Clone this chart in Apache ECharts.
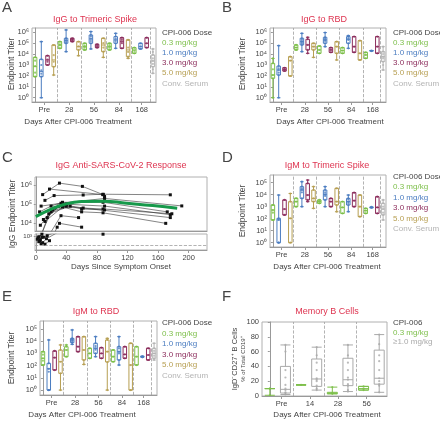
<!DOCTYPE html>
<html><head><meta charset="utf-8">
<script src="https://cdn.jsdelivr.net/npm/echarts@6/dist/echarts.min.js"></script>
<style>html,body{margin:0;padding:0;background:#fff}#c{width:440px;height:421px}</style>
</head><body><div id="c"></div>
<script>
// ---------- shared ----------
const doseNames = ['0.3 mg/kg','1.0 mg/kg','3.0 mg/kg','5.0 mg/kg','Conv. Serum'];
const doseColors = ['#7dbf4a','#4a7cc0','#8c2d5c','#b79f52','#b3b3b3'];
const slotDose = [0,1,2,3, 0,1,2,3, 0,1,2,3, 0,1,2,3, 0,1,2, 4];
const groupLabels = ['Pre','28','56','84','168'];
const groupPos = [1.5,5.5,9.5,13.5,17.2];
const groupBreaks = [3.5,7.5,11.5,15.5,18.5];

// ---------- A: IgG to Trimeric Spike (log10 endpoint titer; [min,q1,median,q3,max]) ----------
const A_stats = [
 [1.93,1.93,2.85,3.7,3.7],[0,1.93,2.39,3.52,5.14],[3.0,3.0,3.46,3.85,3.85],[2.08,2.84,3.46,4.83,4.83],
 [4.53,4.53,4.83,5.14,5.14],[4.22,4.99,5.23,5.45,6.21],[5.14,5.14,5.3,5.45,5.45],[3.85,4.38,4.68,5.14,5.14],
 [4.38,4.38,4.68,4.99,4.99],[4.47,4.99,5.39,5.75,6.06],[4.59,4.59,4.74,4.9,4.9],[3.7,4.22,4.83,5.45,5.45],
 [4.38,4.38,4.68,4.99,4.99],[4.53,4.99,5.3,5.6,5.9],[4.53,4.53,5.14,5.5,5.5],[3.61,3.76,4.38,5.3,5.3],
 [4.07,4.07,4.38,4.59,4.59],[4.47,4.47,4.68,4.99,4.99],[4.59,4.59,4.99,5.5,5.5],
 [2.24,2.84,3.37,3.92,4.47]];
const A_points = [
 [1.93,2.3,2.9,3.4,3.7],[0,1.93,2.2,2.5,3.0,3.52,5.14],[3.0,3.3,3.5,3.85],[2.08,2.84,3.3,3.9,4.83],
 [4.53,4.8,4.9,5.14],[4.22,4.99,5.1,5.25,5.4,5.45,6.21],[5.14,5.25,5.35,5.45],[3.85,4.38,4.7,5.14],
 [4.38,4.6,4.75,4.99],[4.47,4.99,5.2,5.4,5.6,5.75,6.06],[4.59,4.74,4.9],[3.7,4.22,4.6,5.0,5.45],
 [4.38,4.6,4.8,4.99],[4.53,4.99,5.2,5.4,5.6,5.9],[4.53,5.0,5.3,5.5],[3.61,3.76,4.2,4.6,5.3],
 [4.07,4.3,4.59],[4.47,4.7,4.99],[4.59,4.99,5.5],
 [2.24,2.6,2.84,3.1,3.37,3.6,3.92,4.2,4.47]];

// ---------- B: IgG to RBD ----------
const B_stats = [
 [0,1.78,2.08,3.15,3.6],[0,2.08,2.54,2.9,4.77],[2.45,2.45,2.6,2.75,2.75],[1.99,1.99,3.4,3.76,3.76],
 [4.38,4.38,4.6,4.84,4.84],[4.22,4.84,5.14,5.45,5.9],[4.07,4.38,4.84,5.36,5.54],[3.7,4.38,4.68,4.99,4.99],
 [4.07,4.07,4.38,4.74,4.74],[4.68,4.99,5.3,5.54,5.97],[4.16,4.16,4.38,4.59,4.59],[3.46,4.07,4.68,5.14,5.14],
 [4.07,4.07,4.32,4.59,4.59],[4.53,4.99,5.36,5.6,5.69],[4.16,4.16,4.68,5.6,5.6],[3.46,3.46,4.07,5.23,5.23],
 [3.61,3.61,3.92,4.16,4.16],[4.28,4.28,4.3,4.33,4.33],[4.07,4.07,4.68,5.6,5.6],
 [2.54,3.31,3.76,4.22,4.68]];
const B_points = [
 [0,1.78,2.08,2.6,3.15,3.6],[0,2.08,2.3,2.54,2.7,2.9,4.77],[2.45,2.6,2.75],[1.99,3.4,3.76],
 [4.38,4.6,4.84],[4.22,4.84,5.0,5.14,5.3,5.45,5.9],[4.07,4.38,4.84,5.36,5.54],[3.7,4.38,4.68,4.99],
 [4.07,4.38,4.74],[4.68,4.99,5.2,5.3,5.45,5.54,5.97],[4.16,4.38,4.59],[3.46,4.07,4.68,5.14],
 [4.07,4.32,4.59],[4.53,4.99,5.3,5.45,5.6,5.69],[4.16,4.68,5.6],[3.46,4.07,5.23],
 [3.61,3.92,4.16],[4.28,4.33],[4.07,4.68,5.6],
 [2.54,3.0,3.31,3.6,3.76,4.0,4.22,4.68]];

// ---------- D: IgM to Trimeric Spike ----------
const D_stats = [
 [1.89,1.89,2.72,3.14,3.14],[0,0,1.9,2.03,3.97],[2.31,2.31,2.8,3.56,3.56],[0,0,2.03,3.42,4.1],
 [3.0,3.0,3.42,3.7,3.7],[3.0,3.69,4.39,4.67,5.08],[3.42,3.56,3.97,4.94,5.22],[2.86,3.42,3.69,4.39,4.67],
 [3.28,3.28,3.42,3.56,3.56],[3.0,3.56,4.03,4.39,4.67],[3.0,3.0,3.42,3.69,3.69],[2.58,3.14,3.42,4.53,4.53],
 [2.44,2.44,2.94,3.42,3.42],[2.58,3.14,3.42,3.69,3.97],[3.0,3.0,3.5,4.17,4.17],[2.17,2.17,3.0,3.97,3.97],
 [2.44,2.44,2.67,2.86,2.86],[2.9,2.92,2.94,2.96,2.98],[2.44,2.44,2.94,3.83,3.83],
 [1.89,2.31,2.8,3.28,3.56]];
const D_points = [
 [1.89,2.5,2.72,3.14],[0,0,1.9,2.03,3.97],[2.31,2.8,3.56],[0,2.03,3.42,4.1],
 [3.0,3.42,3.7],[3.0,3.69,4.2,4.39,4.5,4.67,5.08],[3.42,3.56,3.97,4.94,5.22],[2.86,3.42,3.69,4.39,4.67],
 [3.28,3.42,3.56],[3.0,3.56,3.9,4.03,4.2,4.39,4.67],[3.0,3.42,3.69],[2.58,3.14,3.42,4.53],
 [2.44,2.94,3.42],[2.58,3.14,3.3,3.42,3.6,3.69,3.97],[3.0,3.5,4.17],[2.17,3.0,3.97],
 [2.44,2.67,2.86],[2.9,2.98],[2.44,2.94,3.83],
 [1.89,2.31,2.5,2.8,3.0,3.28,3.56]];

// ---------- E: IgM to RBD ----------
const E_stats = [
 [2.05,2.05,2.6,3.14,3.14],[0,0,1.74,2.19,4.1],[1.64,1.64,2.65,3.2,3.2],[0,1.37,2.32,3.28,3.69],
 [2.73,2.73,3.28,3.55,3.69],[3.74,3.88,4.1,4.23,4.92],[3.14,3.14,3.55,4.37,4.37],[2.1,2.46,3.28,4.37,4.37],
 [2.6,2.6,3.0,3.42,3.42],[2.73,3.0,3.42,3.83,4.37],[2.6,2.6,3.0,3.47,3.47],[0,2.3,3.14,4.1,4.23],
 [2.32,2.32,2.73,3.28,3.28],[2.05,2.46,3.14,3.55,4.37],[2.6,2.6,2.92,3.55,3.55],[0,0,2.05,3.83,3.83],
 [2.05,2.05,2.73,3.55,3.55],[2.68,2.7,2.73,2.76,2.78],[2.46,2.46,2.87,3.42,3.42],
 [2.46,2.6,3.0,3.42,3.83]];
const E_points = [
 [2.05,2.4,2.6,2.9,3.14],[0,0,1.5,1.74,2.19,4.1],[1.64,2.65,3.2],[0,1.37,2.32,3.28,3.69],
 [2.73,3.28,3.55,3.69],[3.74,3.88,4.0,4.1,4.2,4.23,4.92],[3.14,3.55,4.37],[2.1,2.46,3.28,4.37],
 [2.6,3.0,3.42],[2.73,3.0,3.3,3.42,3.6,3.83,4.37],[2.6,3.0,3.47],[0,2.3,3.14,4.1,4.23],
 [2.32,2.73,3.28],[2.05,2.46,3.0,3.14,3.4,3.55,4.37],[2.6,2.92,3.55],[0,2.05,3.83],
 [2.05,2.73,3.55],[2.68,2.78],[2.46,2.87,3.42],
 [2.46,2.6,2.8,3.0,3.2,3.42,3.83]];

// ---------- C: IgG anti-SARS-CoV-2 (day since onset, log10 titer) ----------
const C_patients = [
 [[9,5.5],[31,6.1],[61,5.93],[88,5.5]],
 [[18,5.79],[88,5.5],[90,5.4]],
 [[12,5.2],[24,5.45],[62,5.48],[88,5.52],[176,5.49]],
 [[7,4.9],[33,5.05],[90,5.3],[191,4.91]],
 [[5,4.6],[20,4.9],[35,5.1],[88,5.1],[172,4.6]],
 [[10,4.2],[25,4.8],[40,5.0],[90,4.9],[176,4.45]],
 [[6,3.9],[22,4.7],[38,4.95],[62,4.8],[176,4.3]],
 [[15,4.3],[30,4.9],[60,4.6],[88,4.55],[170,4.0]],
 [[4,3.0],[17,4.5],[45,4.9],[60,4.75],[90,4.7]],
 [[12,4.1],[35,4.85],[88,4.75],[178,4.5]],
 [[31,4.0],[60,3.8]],
 [[3,2.8],[8,3.5],[20,4.6],[40,4.9]],
 [[5,2.2],[10,2.9],[33,4.4],[56,4.3]],
 [[9,1.8],[14,2.6],[28,3.8]],
 [[6,2.4],[12,1.5],[18,2.2]],
 [[4,2.0],[8,2.9],[15,3.2]],
 [[88,3.5]],
 [[2,2.5],[7,1.6]]
];
const C_fit = [[0,4.35],[18,4.7],[35,4.96],[60,5.14],[88,5.16],[119,5.05],[153,4.93],[185,4.79]];
const C_dayTicks = [0,40,80,120,160,200];
const C_lod = 1.2;

// ---------- F: Memory B cells (% of total CD19+) ----------
const F_groups = ['Pre','14','28','56'];
const F_legend = ['CPI-006','0.3 mg/kg','≥1.0 mg/kg'];
const F_colors = ['#7dbf4a','#a9a9a9'];
const F_slotColor = [0,1,0,1,0,1,0,1];
const F_groupPos = [0.76,2.57,4.36,6.2];
const F_breaks = [1.5,3.5,5.5];
const F_stats = [
 [1,10,10,10,10],[2,4,9,40,69],
 [15,15,15,15,15],[8,13,23,50,66],
 [3,3,4,5,12],[6,14,22,51,69],
 [8,8,10,13,13],[5,16,24,62,83]];
const F_points = [
 [1,10,10],[2,4,5,8,10,15,25,35,60,69],
 [15],[8,10,14,20,22,24,35,45,55,66],
 [3,4,12],[6,8,14,16,22,25,35,45,55,69],
 [8,10,13],[5,14,16,20,24,35,47,55,70,83]];

// ---------- build ----------
const FF = "'Liberation Sans', Arial, Helvetica, sans-serif";
const TXT = '#444', AX = '#999', RED = '#de3450';
const sup = ['⁰','¹','²','³','⁴','⁵','⁶'];
const powFmt = v => '10' + sup[Math.round(v)];
const grid = [], xAxis = [], yAxis = [], series = [], graphic = [];

function dashedLines(axisKey, vals) {
  return {silent:true, symbol:['none','none'], label:{show:false}, animation:false,
    lineStyle:{type:'dashed', color:'#a0a0a0', width:0.8},
    data: vals.map(v => ({[axisKey]: v}))};
}

function addBoxPanel(p) {
  const gi = grid.length;
  grid.push({left:p.rect[0], top:p.rect[1], width:p.rect[2], height:p.rect[3], show:true, borderColor:'#b0b0b0', borderWidth:1});
  const ci = xAxis.length;
  xAxis.push({type:'category', gridIndex:gi, data:p.stats.map((_, i) => 'slot' + i), boundaryGap:true,
    axisLine:{show:false}, axisTick:{show:false}, axisLabel:{show:false}, splitLine:{show:false}});
  const vi = xAxis.length;
  xAxis.push({type:'value', gridIndex:gi, position:'bottom', min:-0.5, max:p.stats.length - 0.5,
    axisLine:{show:true, lineStyle:{color:AX}},
    axisTick:{show:true, customValues:p.gPos, length:3, lineStyle:{color:AX}},
    axisLabel:{customValues:p.gPos, formatter:v => { const k = p.gPos.indexOf(v); return k >= 0 ? p.gLab[k] : ''; },
      fontSize:7.5, color:TXT, margin:4, fontFamily:FF},
    splitLine:{show:false}});
  const yi = yAxis.length;
  yAxis.push({type:'value', gridIndex:gi, min:p.yMin, max:p.yMax,
    axisLine:{show:true, lineStyle:{color:AX}},
    axisTick:{show:true, customValues:p.yTicks, length:2, lineStyle:{color:AX}},
    axisLabel:{customValues:p.yTicks, formatter:p.yFmt, fontSize:7.5, color:TXT, margin:3, fontFamily:FF},
    splitLine:{show:false}});
  series.push({type:'boxplot', xAxisIndex:ci, yAxisIndex:yi, boxWidth:[p.boxW, p.boxW], silent:true,
    data:p.stats.map((s, i) => ({value:s, itemStyle:{color:'#fff', borderColor:p.colors[i], borderWidth:1}})),
    itemStyle:{borderWidth:1}});
  const pts = [];
  p.points.forEach((arr, i) => arr.forEach(v => pts.push({value:[i, v], itemStyle:{color:p.colors[i]}})));
  series.push({type:'scatter', xAxisIndex:vi, yAxisIndex:yi, symbolSize:2.2, silent:true, z:3, data:pts,
    markLine:dashedLines('xAxis', p.breaks)});
}

const slotColors = slotDose.map(d => doseColors[d]);
const std = {gPos:groupPos, gLab:groupLabels, breaks:groupBreaks, colors:slotColors, boxW:3.5, yFmt:powFmt};
addBoxPanel(Object.assign({}, std, {rect:[32,28,124,74], stats:A_stats, points:A_points, yMin:-0.39, yMax:6.39, yTicks:[0,1,2,3,4,5,6]}));
addBoxPanel(Object.assign({}, std, {rect:[270,28,116,74], stats:B_stats, points:B_points, yMin:-0.39, yMax:6.39, yTicks:[0,1,2,3,4,5,6]}));
addBoxPanel(Object.assign({}, std, {rect:[270,175,116,72], stats:D_stats, points:D_points, yMin:-0.36, yMax:5.64, yTicks:[0,1,2,3,4,5]}));
addBoxPanel(Object.assign({}, std, {rect:[40,321,117,74], stats:E_stats, points:E_points, yMin:-0.4, yMax:5.65, yTicks:[0,1,2,3,4,5]}));
addBoxPanel({rect:[262,322,125,74], stats:F_stats, points:F_points, yMin:0, yMax:100, yTicks:[0,20,40,60,80,100],
  gPos:F_groupPos, gLab:F_groups, breaks:F_breaks, colors:F_slotColor.map(c => F_colors[c]), boxW:10, yFmt:v => String(v)});

// C panel: broken log axis -> two grids
const cUp = grid.length;
grid.push({left:35, top:177, width:172, height:54, show:true, borderColor:'#b0b0b0', borderWidth:1});
const cLo = grid.length;
grid.push({left:35, top:234, width:172, height:16, show:true, borderColor:'#b0b0b0', borderWidth:1});
const cxU = xAxis.length;
xAxis.push({type:'value', gridIndex:cUp, min:-1, max:224, axisLine:{show:true, lineStyle:{color:AX}},
  axisTick:{show:false}, axisLabel:{show:false}, splitLine:{show:false}});
const cxL = xAxis.length;
xAxis.push({type:'value', gridIndex:cLo, min:-1, max:224, axisLine:{show:true, lineStyle:{color:AX}},
  axisTick:{show:true, customValues:C_dayTicks, length:3, lineStyle:{color:AX}},
  axisLabel:{customValues:C_dayTicks, fontSize:7.5, color:TXT, margin:4, fontFamily:FF}, splitLine:{show:false}});
const cyU = yAxis.length;
yAxis.push({type:'value', gridIndex:cUp, min:3.6, max:6.42, axisLine:{show:true, lineStyle:{color:AX}},
  axisTick:{show:true, customValues:[4,5,6], length:2, lineStyle:{color:AX}},
  axisLabel:{customValues:[4,5,6], formatter:powFmt, fontSize:7.5, color:TXT, margin:3, fontFamily:FF}, splitLine:{show:false}});
const cyL = yAxis.length;
yAxis.push({type:'value', gridIndex:cLo, min:0.34, max:3.54, axisLine:{show:true, lineStyle:{color:AX}},
  axisTick:{show:true, customValues:[2,3], length:2, lineStyle:{color:AX}},
  axisLabel:{customValues:[2,3], formatter:powFmt, fontSize:6, color:TXT, margin:3, fontFamily:FF}, splitLine:{show:false}});
C_patients.forEach(pt => {
  [[cxU, cyU], [cxL, cyL]].forEach(([xi, yi]) => {
    series.push({type:'line', xAxisIndex:xi, yAxisIndex:yi, data:pt, clip:true, silent:true,
      symbol:'rect', symbolSize:3, showSymbol:true,
      lineStyle:{color:'#333', width:0.6}, itemStyle:{color:'#111'}});
  });
});
series.push({type:'line', xAxisIndex:cxU, yAxisIndex:cyU, data:C_fit, smooth:true, symbol:'none', silent:true, z:5,
  lineStyle:{color:'#16994a', width:3}});
series.push({type:'scatter', xAxisIndex:cxL, yAxisIndex:cyL, data:[], silent:true,
  markLine:dashedLines('yAxis', [C_lod])});

// ---------- texts ----------
function T(x, y, text, o) {
  o = o || {};
  return {type:'text', x:x, y:y, rotation:o.rot || 0, silent:true, z:100,
    style:{text:text, fill:o.color || TXT, font:(o.size || 8) + 'px ' + FF,
      align:o.align || 'left', verticalAlign:'middle'}};
}
const letters = [['A',2,8],['B',222,8],['C',2,158],['D',222,158],['E',2,297],['F',222,297]];
letters.forEach(l => graphic.push(T(l[1], l[2], l[0], {size:15})));
const titles = [['IgG to Trimeric Spike',95,20],['IgG to RBD',324,20],['IgG Anti-SARS-CoV-2 Response',121,166],
  ['IgM to Trimeric Spike',327,166],['IgM to RBD',96,312],['Memory B Cells',327,312]];
titles.forEach(t => graphic.push(T(t[1], t[2], t[0], {size:9, color:RED, align:'center'})));
const xTitles = [['Days After CPI-006 Treatment',78,122],['Days After CPI-006 Treatment',330,122],
  ['Days Since Symptom Onset',121,267],['Days After CPI-006 Treatment',327,267],
  ['Days After CPI-006 Treatment',82,415],['Days After CPI-006 Treatment',327,415]];
xTitles.forEach(t => graphic.push(T(t[1], t[2], t[0], {size:8, align:'center'})));
const yTitles = [['Endpoint Titer',12,64],['Endpoint Titer',243,64],['IgG Endpoint Titer',13,214],
  ['Endpoint Titer',243,211],['Endpoint Titer',12,358]];
yTitles.forEach(t => graphic.push(T(t[1], t[2], t[0], {size:8.5, align:'center', rot:Math.PI / 2})));
graphic.push(T(235, 359, 'IgD⁻CD27⁺ B Cells', {size:7.5, align:'center', rot:Math.PI / 2}));
graphic.push(T(243, 359, '% of Total CD19⁺', {size:6, align:'center', rot:Math.PI / 2}));
function legend(x, y, step) {
  graphic.push(T(x, y, 'CPI-006 Dose', {size:8}));
  doseNames.forEach((n, i) => graphic.push(T(x, y + step * (i + 1), n, {size:8, color:doseColors[i]})));
}
legend(162, 32.3, 10.2);
legend(393, 32.3, 10.2);
legend(393, 176.7, 10.4);
legend(162, 322.7, 10.6);
graphic.push(T(393, 322.7, F_legend[0], {size:8}));
graphic.push(T(393, 332.3, F_legend[1], {size:8, color:F_colors[0]}));
graphic.push(T(393, 341.9, F_legend[2], {size:8, color:F_colors[1]}));

const chart = echarts.init(document.getElementById('c'), null, {renderer:'canvas'});
chart.setOption({animation:false, grid:grid, xAxis:xAxis, yAxis:yAxis, series:series, graphic:graphic});
</script></body></html>
